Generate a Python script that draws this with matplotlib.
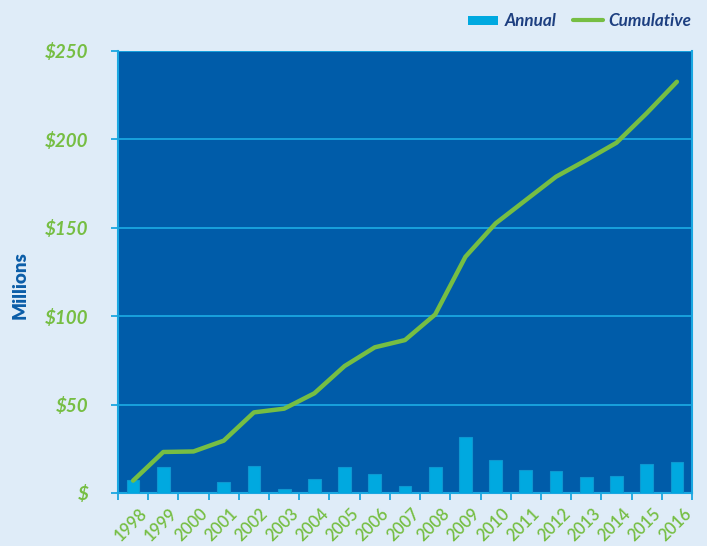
import matplotlib
matplotlib.use("Agg")
import matplotlib.pyplot as plt
import matplotlib.transforms as mtransforms
from matplotlib.patches import Rectangle
from matplotlib.lines import Line2D
import numpy as np

years = ["1998", "1999", "2000", "2001", "2002", "2003", "2004", "2005", "2006", "2007",
         "2008", "2009", "2010", "2011", "2012", "2013", "2014", "2015", "2016"]
annual = [7.4, 14.9, 0, 6.0, 15.5, 2.3, 7.9, 14.7, 10.7, 4.0,
          14.7, 31.5, 18.7, 13.0, 12.6, 9.0, 9.6, 16.4, 17.4]
cumulative = [7.0, 23.2, 23.5, 29.6, 45.6, 47.7, 56.4, 71.8, 82.4, 86.5,
              101.0, 133.6, 152.5, 165.7, 178.9, 188.3, 198.1, 214.8, 232.6]
yticks = [0, 50, 100, 150, 200, 250]
ytick_labels = ["$", "$50", "$100", "$150", "$200", "$250"]

BG = "#DFECF8"
PLOT_BG = "#005CA9"
BAR = "#00A9E0"
GRID = "#1AA7E1"
GREEN = "#76BE43"
NAVY = "#1D3F80"
MBLUE = "#0B5DA8"

plt.rcParams['font.family'] = ['Lato', 'DejaVu Sans']

fig = plt.figure(figsize=(7.07, 5.46), dpi=100, facecolor=BG)
ax = fig.add_axes([118/707, 1-493/546, (692-118)/707, (493-51)/546])
ax.set_facecolor(PLOT_BG)

x = np.arange(len(years))
ax.bar(x, annual, width=0.42, color=BAR, edgecolor="#0E97D0", linewidth=0.8, zorder=3)
ax.plot(x, cumulative, color=GREEN, linewidth=3.2, solid_capstyle='round', zorder=4)

ax.set_xlim(-0.5, len(years) - 0.5)
ax.set_ylim(0, 250)
ax.set_yticks(yticks)
ax.set_yticklabels(ytick_labels)
ax.yaxis.grid(True, color=GRID, linewidth=1.3, zorder=1)
ax.set_axisbelow(True)

ax.set_xticks(x)
ax.set_xticklabels(years)
ax.set_xticks(np.arange(-0.5, len(years)), minor=True)
ax.tick_params(axis='x', which='major', length=0, pad=9)
ax.tick_params(axis='x', which='minor', length=5, width=1.3, color=GRID, direction='out')
ax.tick_params(axis='y', length=5, width=1.3, color=GRID, pad=16)

offset = mtransforms.ScaledTranslation(6/100, 0, fig.dpi_scale_trans)
for lab in ax.get_xticklabels():
    lab.set_rotation(45)
    lab.set_ha('right')
    lab.set_va('top')
    lab.set_rotation_mode('anchor')
    lab.set_color(GREEN)
    lab.set_fontsize(12)
    lab.set_fontweight('semibold')
    lab.set_transform(lab.get_transform() + offset)

for lab in ax.get_yticklabels():
    lab.set_color(GREEN)
    lab.set_fontsize(13.5)
    lab.set_fontstyle('italic')
    lab.set_fontweight('bold')

for side in ['left', 'bottom', 'right']:
    ax.spines[side].set_color(GRID)
    ax.spines[side].set_linewidth(1.5)
ax.spines['top'].set_visible(False)

fig.text(20/707, 1-285/546, "Millions", rotation=90, ha='center', va='center',
         color=MBLUE, fontsize=13.5, fontweight='heavy')

# legend
fig.patches.append(Rectangle((468/707, 1-25/546), 30/707, 9/546, transform=fig.transFigure,
                             facecolor=BAR, edgecolor='none'))
fig.text(505/707, 1-21/546, "Annual", ha='left', va='center', color=NAVY,
         fontsize=12.3, fontstyle='italic', fontweight='bold')
fig.lines.append(Line2D([573/707, 603/707], [1-20/546, 1-20/546], transform=fig.transFigure,
                        color=GREEN, linewidth=3, solid_capstyle='round'))
fig.text(608/707, 1-21/546, "Cumulative", ha='left', va='center', color=NAVY,
         fontsize=12.3, fontstyle='italic', fontweight='bold')

fig.savefig("out.png", dpi=100, facecolor=BG)
